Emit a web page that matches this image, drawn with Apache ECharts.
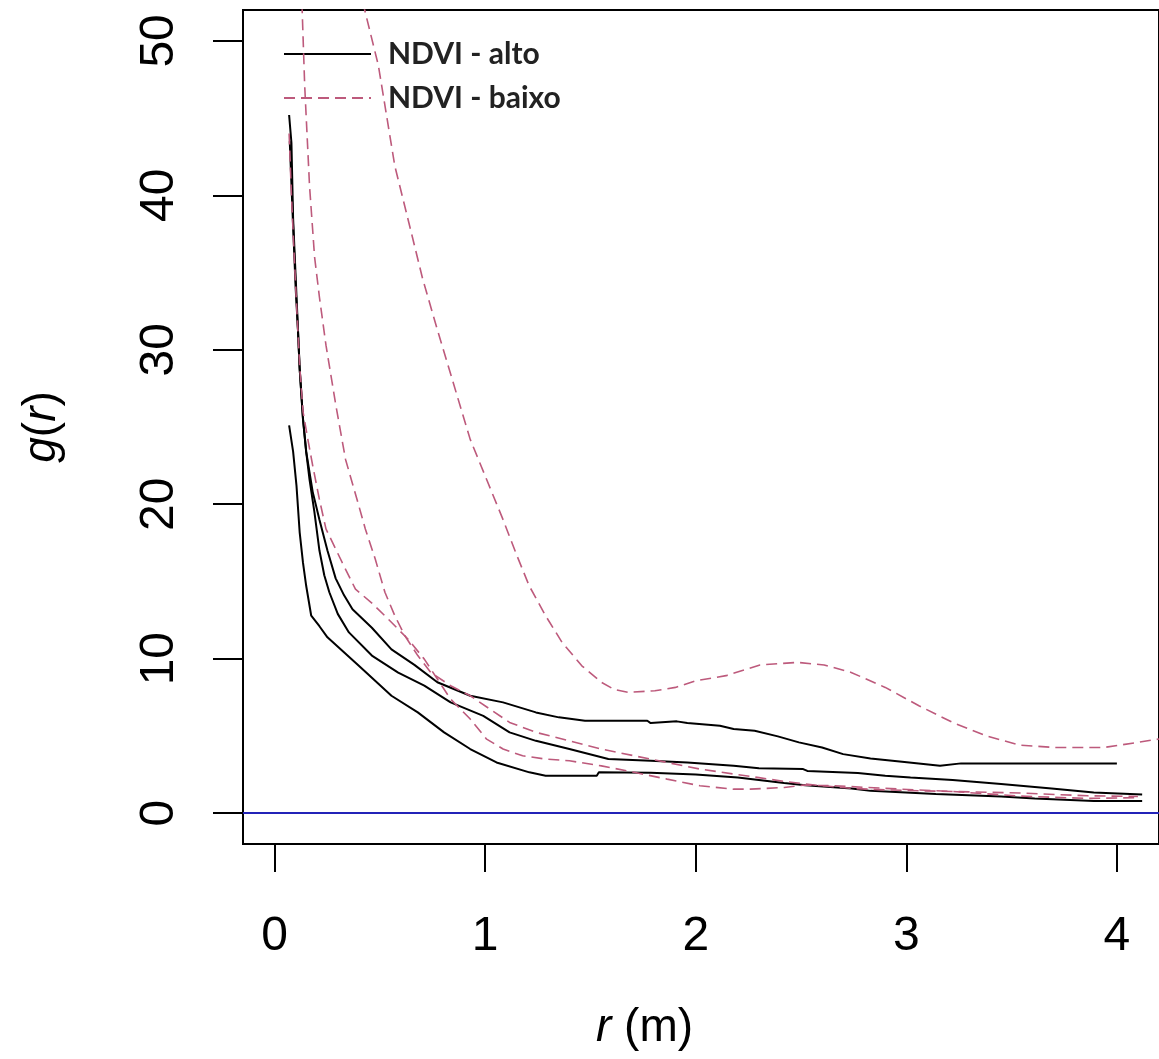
<!DOCTYPE html>
<html><head><meta charset="utf-8">
<script src="https://cdn.jsdelivr.net/npm/echarts@6/dist/echarts.min.js"></script>
<style>html,body{margin:0;padding:0;background:#fff}#c{width:1159px;height:1059px}</style>
</head><body><div id="c"></div>
<script>
// tick values
const xTicks = [0, 1, 2, 3, 4];
const yTicks = [0, 10, 20, 30, 40, 50];
const legendNames = ['NDVI - alto', 'NDVI - baixo'];

// NDVI - alto (solid black): [r, g(r)]
const altoUpper = [[0.069,45.2],[0.08,43.4],[0.088,38.5],[0.104,33.5],[0.111,31.3],[0.119,28.8],[0.135,25.5],[0.15,23.4],[0.181,20.8],[0.213,19.0],[0.251,17.0],[0.29,15.2],[0.33,14.1],[0.37,13.2],[0.462,12.0],[0.555,10.6],[0.664,9.6],[0.773,8.47],[0.929,7.6],[1.085,7.17],[1.241,6.52],[1.35,6.2],[1.474,5.98],[1.77,5.98],[1.786,5.83],[1.91,5.94],[1.96,5.83],[2.115,5.66],[2.18,5.44],[2.28,5.33],[2.39,4.97],[2.49,4.58],[2.6,4.25],[2.7,3.82],[2.83,3.54],[2.98,3.32],[3.16,3.06],[3.26,3.22],[4.0,3.22]];
const altoMid = [[0.072,43.5],[0.085,39],[0.1,34],[0.111,31.3],[0.119,28.8],[0.135,25.5],[0.15,23.4],[0.166,21.6],[0.189,19.5],[0.213,17.0],[0.236,15.4],[0.26,14.3],[0.3,12.9],[0.353,11.7],[0.462,10.2],[0.587,9.1],[0.711,8.25],[0.836,7.17],[0.991,6.3],[1.116,5.23],[1.241,4.68],[1.4,4.15],[1.585,3.5],[1.786,3.39],[1.96,3.28],[2.18,3.06],[2.3,2.9],[2.51,2.85],[2.53,2.73],[2.77,2.6],[2.9,2.42],[3.02,2.3],[3.22,2.15],[3.45,1.88],[3.69,1.6],[3.89,1.34],[4.12,1.2]];
const altoLow = [[0.069,25.1],[0.088,23.4],[0.104,21.2],[0.119,18.2],[0.135,16.2],[0.15,14.72],[0.174,12.78],[0.213,12.1],[0.251,11.38],[0.4,9.54],[0.555,7.6],[0.68,6.52],[0.805,5.23],[0.929,4.15],[1.054,3.28],[1.21,2.64],[1.287,2.42],[1.53,2.42],[1.54,2.64],[1.786,2.62],[2.0,2.5],[2.2,2.3],[2.42,1.95],[2.52,1.81],[2.74,1.6],[2.83,1.44],[3.14,1.23],[3.45,1.08],[3.61,0.95],[3.89,0.78],[4.12,0.78]];

// NDVI - baixo (dashed pink): [r, g(r)]
const baixoUpper = [[0.40,53.6],[0.428,52],[0.493,48.4],[0.571,41.9],[0.649,37.6],[0.703,34.6],[0.773,31.3],[0.852,27.7],[0.929,24.2],[1.007,21.6],[1.085,19.0],[1.147,16.8],[1.209,14.72],[1.287,12.78],[1.365,11.06],[1.459,9.54],[1.552,8.47],[1.614,8.0],[1.679,7.82],[1.806,7.92],[1.904,8.14],[2.0,8.57],[2.144,8.9],[2.305,9.59],[2.482,9.76],[2.61,9.59],[2.738,9.11],[2.9,8.14],[3.06,6.95],[3.22,5.87],[3.38,5.0],[3.54,4.4],[3.70,4.25],[3.94,4.25],[4.1,4.58],[4.2,4.8]];
const baixoMid = [[0.127,53.6],[0.143,47.1],[0.166,40.6],[0.19,36],[0.213,33.4],[0.244,30.3],[0.291,26.4],[0.337,22.9],[0.4,19.9],[0.431,18.4],[0.478,16.45],[0.524,14.3],[0.571,12.78],[0.618,11.5],[0.68,10.2],[0.742,9.1],[0.836,8.25],[0.929,7.6],[1.022,6.74],[1.116,5.87],[1.241,5.23],[1.4,4.68],[1.552,4.15],[1.708,3.71],[1.864,3.28],[2.02,2.85],[2.18,2.53],[2.3,2.3],[2.42,2.05],[2.58,1.8],[2.74,1.6],[2.9,1.5],[3.22,1.4],[3.54,1.3],[3.86,1.12],[4.1,1.08]];
const baixoLow = [[0.069,44],[0.08,40],[0.09,37],[0.104,33],[0.119,29],[0.135,26],[0.158,24.2],[0.181,22.5],[0.213,20.3],[0.244,18.4],[0.322,16.2],[0.384,14.5],[0.462,13.6],[0.54,12.56],[0.633,11.27],[0.711,9.97],[0.773,8.68],[0.836,7.38],[0.929,6.09],[1.007,4.79],[1.085,4.15],[1.178,3.71],[1.287,3.5],[1.4,3.39],[1.552,3.06],[1.708,2.64],[1.864,2.2],[2.02,1.77],[2.18,1.55],[2.26,1.55],[2.42,1.66],[2.51,1.81],[2.66,1.77],[2.82,1.66],[2.98,1.55],[3.22,1.4],[3.54,1.1],[3.86,0.95],[4.1,1.0]];

const refLine = 0;

const FONT = 'Liberation Sans, Arial, sans-serif';
const BLACK = '#000000';
const PINK = '#bd5a7c';

function altoSeries(data) {
  return {
    name: legendNames[0], type: 'line', data: data, showSymbol: false, symbol: 'none',
    lineStyle: { color: BLACK, width: 2 }, itemStyle: { color: BLACK }, z: 3, silent: true
  };
}
function baixoSeries(data) {
  return {
    name: legendNames[1], type: 'line', data: data, showSymbol: false, symbol: 'none',
    lineStyle: { color: PINK, width: 1.6, type: [11, 6] }, itemStyle: { color: PINK }, z: 4, silent: true
  };
}

const series = [
  altoSeries(altoUpper), altoSeries(altoMid), altoSeries(altoLow),
  baixoSeries(baixoUpper), baixoSeries(baixoMid), baixoSeries(baixoLow)
];
series[0].markLine = {
  silent: true, symbol: 'none', animation: false,
  label: { show: false },
  lineStyle: { color: '#2323b8', width: 2, type: 'solid' },
  data: [{ yAxis: refLine }]
};

const chart = echarts.init(document.getElementById('c'), null, { renderer: 'canvas' });
chart.setOption({
  animation: false,
  backgroundColor: '#ffffff',
  grid: { left: 243, top: 10, width: 930, height: 834, show: true, borderColor: '#000', borderWidth: 2, backgroundColor: 'transparent' },
  legend: {
    data: legendNames, orient: 'vertical', left: 278, top: 34,
    itemWidth: 87, itemHeight: 14, itemGap: 14, selectedMode: false,
    itemStyle: { opacity: 0 },
    textStyle: { fontFamily: 'Lato, Open Sans, sans-serif', fontWeight: 'bold', fontSize: 30, lineHeight: 30, color: '#222', padding: [0, 0, 0, 12] }
  },
  xAxis: {
    type: 'value', min: -0.15, max: 4.2,
    axisLine: { show: false, onZero: false },
    splitLine: { show: false },
    axisTick: { show: true, inside: false, length: 28, lineStyle: { color: '#000', width: 2 }, customValues: xTicks },
    axisLabel: { show: true, customValues: xTicks, margin: 69, fontSize: 48, fontFamily: FONT, color: '#000', verticalAlign: 'top' }
  },
  yAxis: {
    type: 'value', min: -2, max: 52,
    axisLine: { show: false, onZero: false },
    splitLine: { show: false },
    axisTick: { show: true, inside: false, length: 30, lineStyle: { color: '#000', width: 2 }, customValues: yTicks },
    axisLabel: { show: true, customValues: yTicks, rotate: 90, margin: 59, fontSize: 48, fontFamily: FONT, color: '#000' },
    name: '{i|g}({i|r})', nameLocation: 'middle', nameRotate: 90, nameGap: 178,
    nameTextStyle: { fontSize: 46, fontFamily: FONT, color: '#000', rich: { i: { fontStyle: 'italic', fontSize: 46, fontFamily: FONT, color: '#000' } } }
  },
  graphic: [{
    type: 'text', left: 596, top: 1005,
    style: { text: '{i|r} (m)', fontSize: 46, fontFamily: FONT, fill: '#000', rich: { i: { fontStyle: 'italic', fontSize: 46, fontFamily: FONT, fill: '#000' } } }
  }],
  series: series
});
</script></body></html>
